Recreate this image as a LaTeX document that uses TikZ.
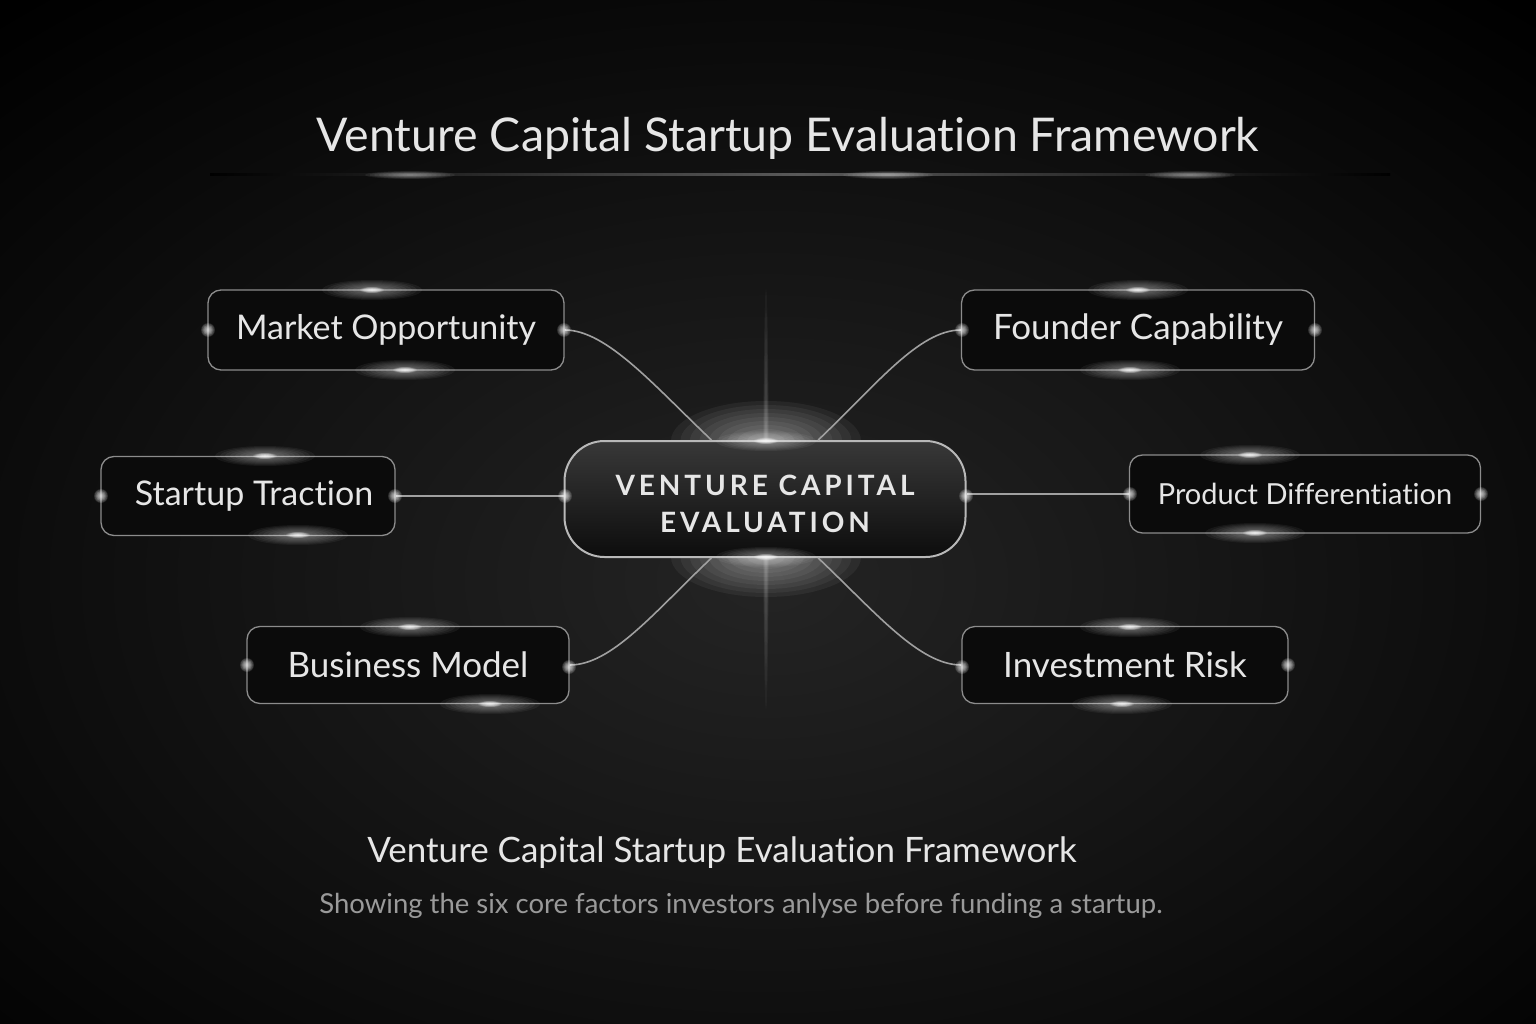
\documentclass[tikz,border=0pt]{standalone}
\usepackage{fontspec}
\setmainfont{Lato}[Ligatures=NoCommon]
\newfontfamily\hubfont[LetterSpace=14]{Lato}
\usetikzlibrary{calc}

\definecolor{bgmid}{HTML}{242424}
\definecolor{boxfill}{HTML}{0B0B0B}
\definecolor{boxline}{HTML}{8C8C8C}
\definecolor{txtlight}{HTML}{E6E6E6}
\definecolor{txtgray}{HTML}{9A9A9A}
\definecolor{linkgray}{HTML}{A0A0A0}

% soft glint: ten stacked ellipses, centre, x radius, y radius, opacity of each
\newcommand{\glint}[4]{%
  \foreach \k in {1,...,10}
    {\fill[white, opacity=#4] #1 ellipse [x radius={#2*\k/10}, y radius={#3*\k/10}];}%
}

\tikzset{
  factor/.style={draw=boxline, line width=1.3pt, fill=boxfill, rounded corners=13pt,
    text=txtlight, font=\fontsize{35}{40}\selectfont, inner sep=0pt},
  hub/.style={draw=black!28, line width=2pt, top color=black!78, bottom color=black!95,
    rounded corners=40pt, minimum width=401pt, minimum height=116pt, align=center,
    text=txtlight, font=\hubfont\bfseries\fontsize{28}{37}\selectfont},
  link/.style={draw=linkgray, line width=1.6pt}
}

\begin{document}
\begin{tikzpicture}[x=1pt, y=-1pt]
  \useasboundingbox (0,0) rectangle (1536,1024);
  \clip (0,0) rectangle (1536,1024);
  % background
  \fill[black] (0,0) rectangle (1536,1024);
  \shade[inner color=bgmid, outer color=black] (768,580) ellipse [x radius=1150, y radius=760];

  % title and its rule
  \node[anchor=base, text=txtlight, font=\fontsize{46.5}{50}\selectfont] (title) at (788,152) {Venture Capital Startup Evaluation Framework};
  \shade[left color=black, right color=black, middle color=black!65] (210,174) rectangle (1390,176);
  \foreach \gx in {410,888,1190}
    {\glint{(\gx,175)}{45}{4}{0.06}}

  % light burst behind the hub
  \glint{(766,499)}{3}{210}{0.035}
  \glint{(766,441)}{95}{40}{0.05}
  \glint{(766,557)}{95}{40}{0.05}

  % hub
  \node[hub] (vce) at (765,499) {\rule{0pt}{30pt}VENTURE CAPITAL\\EVALUATION};

  % six factors
  \node[factor, minimum width=356pt, minimum height=80pt, font=\fontsize{34}{40}\selectfont] (mo) at (386,330) {Market Opportunity};
  \node[factor, minimum width=353pt, minimum height=80pt] (fc) at (1138,330) {Founder Capability};
  \node[factor, minimum width=294pt, minimum height=79pt, font=\fontsize{34}{40}\selectfont] (st) at (248,496) {\hspace{12pt}Startup Traction};
  \node[factor, minimum width=351pt, minimum height=78pt, font=\fontsize{29}{34}\selectfont] (pd) at (1305,494) {Product Differentiation};
  \node[factor, minimum width=322pt, minimum height=77pt] (bm) at (408,665) {Business Model};
  \node[factor, minimum width=326pt, minimum height=77pt] (ir) at (1125,665) {Investment Risk};

  % connectors
  \draw[link] (mo.east) .. controls +(42,0) and +(-58,-55) .. ($(vce.north west)!0.367!(vce.north east)$);
  \draw[link] (fc.west) .. controls +(-42,0) and +(58,-55) .. ($(vce.north west)!0.632!(vce.north east)$);
  \draw[link] (st.east) -- (vce.west |- st.east);
  \draw[link] (pd.west) -- (vce.east |- pd.west);
  \draw[link] (bm.east) .. controls +(42,0) and +(-58,55) .. ($(vce.south west)!0.367!(vce.south east)$);
  \draw[link] (ir.west) .. controls +(-42,0) and +(58,55) .. ($(vce.south west)!0.632!(vce.south east)$);

  % glints on the box edges
  \foreach \gx/\gy in {372/290, 405/370, 1138/290, 1130/370, 265/456, 298/535,
      1250/455, 1255/533, 410/627, 490/704, 1130/627, 1122/704, 766/441, 766/557}
  {
    \glint{(\gx,\gy)}{50}{10}{0.05}
    \glint{(\gx,\gy)}{12}{3}{0.15}
  }
  \foreach \gx/\gy in {564/330, 208/330, 962/330, 1315/330, 101/496, 395/496, 1130/494,
      1481/494, 569/667, 247/665, 962/667, 1288/665, 565/496, 966/496}
    {\glint{(\gx,\gy)}{7}{7}{0.12}}

  % footer
  \node[anchor=base, text=txtlight, font=\fontsize{35}{40}\selectfont] (foot) at (722,862) {Venture Capital Startup Evaluation Framework};
  \node[anchor=base, text=txtgray, font=\fontsize{27.5}{32}\selectfont] (sub) at (741,913) {Showing the six core factors investors anlyse before funding a startup.};
\end{tikzpicture}
\end{document}
